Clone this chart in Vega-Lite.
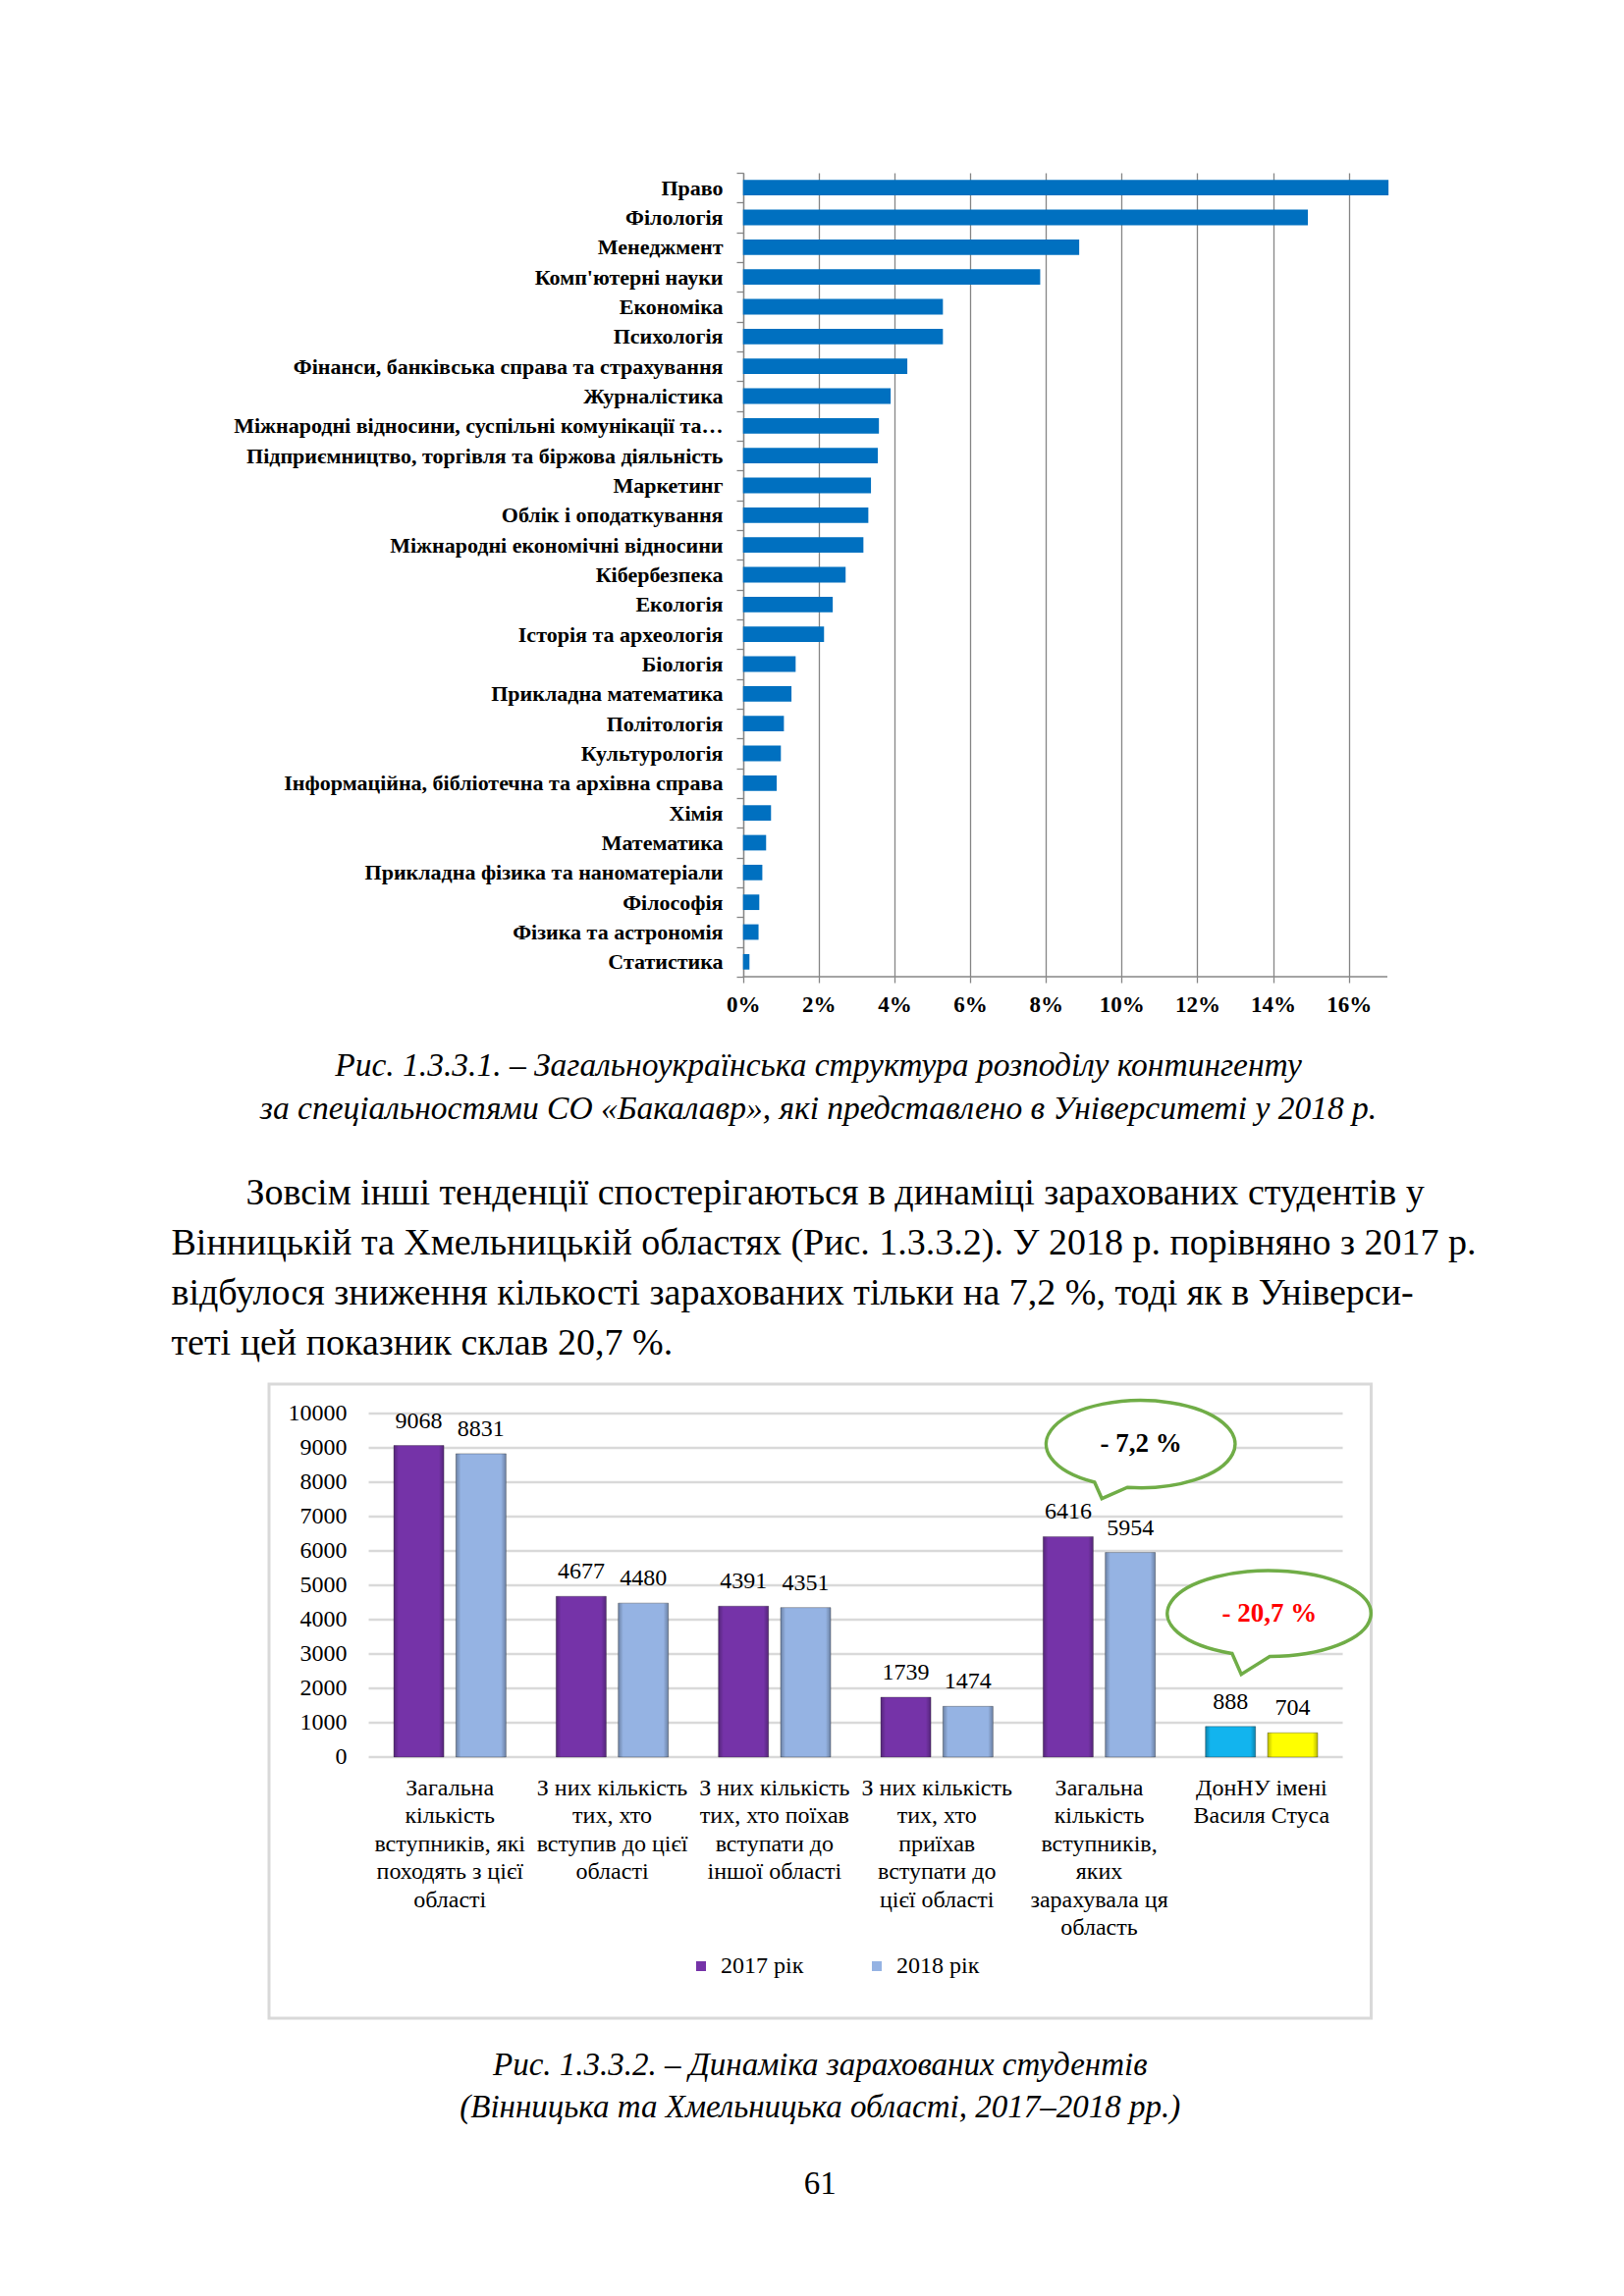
{
  "$schema": "https://vega.github.io/schema/vega-lite/v6.json",
  "background": "white",
  "padding": {"left": 173, "top": 165, "right": 40, "bottom": 40},
  "config": {
    "view": {"stroke": null},
    "font": "Liberation Serif",
    "axis": {"labelFont": "Liberation Serif", "labelColor": "#000000"},
    "legend": {"labelFont": "Liberation Serif", "labelColor": "#000000"},
    "title": {"font": "Liberation Serif", "color": "#000000", "fontWeight": "normal"},
    "text": {"font": "Liberation Serif"}
  },
  "spacing": 48,
  "resolve": {"scale": {"color": "independent"}, "legend": {"color": "independent"}},
  "vconcat": [
    {
      "width": 1139,
      "height": 819,
      "title": {
        "text": ["Рис. 1.3.3.1. – Загальноукраїнська структура розподілу контингенту", "за спеціальностями СО «Бакалавр», які представлено в Університеті у 2018 р."],
        "orient": "bottom", "anchor": "middle", "frame": "group", "dx": -10, "offset": 35,
        "fontSize": 33.5, "fontStyle": "italic", "fontWeight": "normal", "lineHeight": 44
      },
      "data": {"values": [
        {"name": "Право", "share": 0.1705},
        {"name": "Філологія", "share": 0.1492},
        {"name": "Менеджмент", "share": 0.0888},
        {"name": "Комп'ютерні науки", "share": 0.0785},
        {"name": "Економіка", "share": 0.0528},
        {"name": "Психологія", "share": 0.0528},
        {"name": "Фінанси, банківська справа та страхування", "share": 0.0434},
        {"name": "Журналістика", "share": 0.0390},
        {"name": "Міжнародні відносини, суспільні комунікації та…", "share": 0.0359},
        {"name": "Підприємництво, торгівля та біржова діяльність", "share": 0.0356},
        {"name": "Маркетинг", "share": 0.0338},
        {"name": "Облік і оподаткування", "share": 0.0331},
        {"name": "Міжнародні економічні відносини", "share": 0.0318},
        {"name": "Кібербезпека", "share": 0.0271},
        {"name": "Екологія", "share": 0.0237},
        {"name": "Історія та археологія", "share": 0.0214},
        {"name": "Біологія", "share": 0.0139},
        {"name": "Прикладна математика", "share": 0.0128},
        {"name": "Політологія", "share": 0.0108},
        {"name": "Культурологія", "share": 0.0100},
        {"name": "Інформаційна, бібліотечна та архівна справа", "share": 0.0089},
        {"name": "Хімія", "share": 0.0074},
        {"name": "Математика", "share": 0.0061},
        {"name": "Прикладна фізика та наноматеріали", "share": 0.0051},
        {"name": "Філософія", "share": 0.0043},
        {"name": "Фізика та астрономія", "share": 0.0041},
        {"name": "Статистика", "share": 0.0017}
      ]},
      "layer": [
        {
          "mark": {"type": "bar", "color": "#0070C0", "height": {"band": 0.52}},
          "encoding": {
            "y": {
              "field": "name", "type": "nominal", "sort": null,
              "scale": {"paddingInner": 0, "paddingOuter": 0},
              "axis": {
                "title": null, "orient": "left", "offset": -483,
                "labelFontWeight": "bold", "labelFontSize": 22, "labelLimit": 0, "labelPadding": 14,
                "domain": true, "domainColor": "#868686", "domainWidth": 1.3,
                "ticks": true, "tickBand": "extent", "tickSize": 7, "tickColor": "#868686", "tickWidth": 1.3,
                "grid": false, "labelOverlap": false
              }
            },
            "x": {
              "field": "share", "type": "quantitative",
              "scale": {"domain": [-0.1252, 0.1702], "nice": false, "zero": false},
              "axis": {
                "title": null, "values": [0, 0.02, 0.04, 0.06, 0.08, 0.1, 0.12, 0.14, 0.16], "format": ".0%",
                "grid": true, "gridColor": "#868686", "gridWidth": 1.3,
                "domain": false, "ticks": true, "tickSize": 6, "tickColor": "#868686", "tickWidth": 1.3,
                "labelFontWeight": "bold", "labelFontSize": 23, "labelPadding": 11, "labelFlush": false
              }
            }
          }
        },
        {
          "data": {"values": [{}]},
          "mark": {"type": "rule", "color": "#868686", "strokeWidth": 1.3},
          "encoding": {
            "x": {"datum": 0},
            "x2": {"datum": 0.1702},
            "y": {"datum": "Статистика", "bandPosition": 1}
          }
        }
      ]
    },
    {
      "spacing": 30,
      "resolve": {"scale": {"color": "independent"}, "legend": {"color": "independent"}},
      "vconcat": [
        {
          "width": 1122.5,
          "height": 646,
          "view": {"stroke": "#d9d9d9", "strokeWidth": 3},
          "title": {
            "text": [
              "\u200b\u00a0\u00a0\u00a0\u00a0\u00a0\u00a0\u00a0\u00a0Зовсім інші тенденції спостерігаються в динаміці зарахованих студентів у",
              "Вінницькій та Хмельницькій областях (Рис. 1.3.3.2). У 2018 р. порівняно з 2017 р.",
              "відбулося зниження кількості зарахованих тільки на 7,2 %, тоді як в Універси-",
              "теті цей показник склав 20,7 %."
            ],
            "orient": "top", "anchor": "start", "frame": "group", "dx": -99.5, "offset": 22,
            "fontSize": 38, "fontWeight": "normal", "fontStyle": "normal", "lineHeight": 51
          },
          "data": {"values": [
            {"group": "Загальна\nкількість\nвступників, які\nпоходять з цієї\nобласті", "year": "2017 рік", "count": 9068},
            {"group": "Загальна\nкількість\nвступників, які\nпоходять з цієї\nобласті", "year": "2018 рік", "count": 8831},
            {"group": "З них кількість\nтих, хто\nвступив до цієї\nобласті", "year": "2017 рік", "count": 4677},
            {"group": "З них кількість\nтих, хто\nвступив до цієї\nобласті", "year": "2018 рік", "count": 4480},
            {"group": "З них кількість\nтих, хто поїхав\nвступати до\nіншої області", "year": "2017 рік", "count": 4391},
            {"group": "З них кількість\nтих, хто поїхав\nвступати до\nіншої області", "year": "2018 рік", "count": 4351},
            {"group": "З них кількість\nтих, хто\nприїхав\nвступати до\nцієї області", "year": "2017 рік", "count": 1739},
            {"group": "З них кількість\nтих, хто\nприїхав\nвступати до\nцієї області", "year": "2018 рік", "count": 1474},
            {"group": "Загальна\nкількість\nвступників,\nяких\nзарахувала ця\nобласть", "year": "2017 рік", "count": 6416},
            {"group": "Загальна\nкількість\nвступників,\nяких\nзарахувала ця\nобласть", "year": "2018 рік", "count": 5954},
            {"group": "ДонНУ імені\nВасиля Стуса", "year": "2017 рік", "count": 888},
            {"group": "ДонНУ імені\nВасиля Стуса", "year": "2018 рік", "count": 704}
          ]},
          "layer": [
            {
              "data": {"values": [{"v": 0}, {"v": 1000}, {"v": 2000}, {"v": 3000}, {"v": 4000}, {"v": 5000}, {"v": 6000}, {"v": 7000}, {"v": 8000}, {"v": 9000}, {"v": 10000}]},
              "mark": {"type": "rule", "color": "#d9d9d9", "strokeWidth": 2.5},
              "encoding": {
                "y": {"field": "v", "type": "quantitative"},
                "x": {"datum": "Загальна\nкількість\nвступників, які\nпоходять з цієї\nобласті", "bandPosition": 0},
                "x2": {"datum": "ДонНУ імені\nВасиля Стуса", "bandPosition": 1}
              }
            },
            {
              "mark": {"type": "bar", "stroke": "#2b2b2b", "strokeOpacity": 0.35, "strokeWidth": 1},
              "encoding": {
                "x": {
                  "field": "group", "type": "nominal", "sort": null,
                  "scale": {
                    "domain": [
                      "Загальна\nкількість\nвступників, які\nпоходять з цієї\nобласті",
                      "З них кількість\nтих, хто\nвступив до цієї\nобласті",
                      "З них кількість\nтих, хто поїхав\nвступати до\nіншої області",
                      "З них кількість\nтих, хто\nприїхав\nвступати до\nцієї області",
                      "Загальна\nкількість\nвступників,\nяких\nзарахувала ця\nобласть",
                      "ДонНУ імені\nВасиля Стуса"
                    ],
                    "paddingInner": 0, "paddingOuter": 0.3947, "align": 0.778
                  },
                  "axis": {
                    "title": null, "orient": "bottom", "offset": -247,
                    "domain": false, "ticks": false, "grid": false,
                    "labelAngle": 0, "labelAlign": "center", "labelBaseline": "top",
                    "labelExpr": "split(datum.label, '\\n')",
                    "labelLineHeight": 28.5, "labelFontSize": 24, "labelPadding": 0, "labelLimit": 0, "labelOverlap": false
                  }
                },
                "xOffset": {"field": "year", "type": "nominal", "scale": {"paddingInner": 0.194, "paddingOuter": 0.403}},
                "y": {
                  "field": "count", "type": "quantitative",
                  "scale": {"domain": [-7605, 10857], "nice": false, "zero": false},
                  "axis": {
                    "title": null, "values": [0, 1000, 2000, 3000, 4000, 5000, 6000, 7000, 8000, 9000, 10000], "format": "d",
                    "orient": "left", "offset": -79, "domain": false, "ticks": false, "grid": false,
                    "labelPadding": 0, "labelFontSize": 24, "labelFlush": false
                  }
                },
                "color": {
                  "field": "year", "type": "nominal",
                  "scale": {"domain": ["2017 рік", "2018 рік"], "range": ["#7533A8", "#95B3E3"]},
                  "condition": [
                    {"test": "datum.group === 'ДонНУ імені\\nВасиля Стуса' && datum.year === '2017 рік'", "value": "#12B4EE"},
                    {"test": "datum.group === 'ДонНУ імені\\nВасиля Стуса' && datum.year === '2018 рік'", "value": "#FFFF00"}
                  ],
                  "legend": {
                    "title": null, "orient": "none", "legendX": 428, "legendY": 581, "direction": "horizontal",
                    "symbolType": "square", "symbolSize": 100, "symbolStrokeWidth": 0,
                    "labelFont": "Liberation Serif", "labelFontSize": 24, "labelColor": "#000000",
                    "labelOffset": 8, "columnPadding": 62, "padding": 0
                  }
                }
              }
            },
            {
              "mark": {
                "type": "bar",
                "fill": {"gradient": "linear", "x1": 0, "x2": 1, "y1": 0, "y2": 0, "stops": [
                  {"offset": 0, "color": "rgba(0,0,0,0.28)"},
                  {"offset": 0.1, "color": "rgba(0,0,0,0)"},
                  {"offset": 0.9, "color": "rgba(0,0,0,0)"},
                  {"offset": 1, "color": "rgba(0,0,0,0.28)"}
                ]}
              },
              "encoding": {
                "x": {"field": "group", "type": "nominal", "sort": null},
                "xOffset": {"field": "year", "type": "nominal"},
                "y": {"field": "count", "type": "quantitative"}
              }
            },
            {
              "mark": {"type": "text", "baseline": "alphabetic", "dy": -18, "fontSize": 24, "color": "#000000"},
              "encoding": {
                "x": {"field": "group", "type": "nominal", "sort": null},
                "xOffset": {"field": "year", "type": "nominal"},
                "y": {"field": "count", "type": "quantitative"},
                "text": {"field": "count", "type": "quantitative", "format": "d"}
              }
            },
            {
              "data": {"values": [{"t": "- 7,2 %"}]},
              "mark": {"type": "point", "shape": "M-0.138,0.44A0.962,0.445,0,1,0,-0.472,0.388L-0.398,0.555Z", "size": 40000, "filled": true, "fill": "#ffffff", "stroke": "#70AD47", "strokeWidth": 3.5, "opacity": 1},
              "encoding": {
                "x": {"datum": "Загальна\nкількість\nвступників,\nяких\nзарахувала ця\nобласть", "bandPosition": 0.757},
                "y": {"datum": 9108}
              }
            },
            {
              "data": {"values": [{"t": "- 7,2 %"}]},
              "mark": {"type": "text", "fontWeight": "bold", "fontSize": 27, "color": "#000000", "baseline": "middle"},
              "encoding": {
                "x": {"datum": "Загальна\nкількість\nвступників,\nяких\nзарахувала ця\nобласть", "bandPosition": 0.757},
                "y": {"datum": 9108},
                "text": {"field": "t"}
              }
            },
            {
              "data": {"values": [{"t": "- 20,7 %"}]},
              "mark": {"type": "point", "shape": "M0.004,0.437A1.037,0.437,0,1,0,-0.38,0.407L-0.286,0.62Z", "size": 40000, "filled": true, "fill": "#ffffff", "stroke": "#70AD47", "strokeWidth": 3.5, "opacity": 1},
              "encoding": {
                "x": {"datum": "ДонНУ імені\nВасиля Стуса", "bandPosition": 0.548},
                "y": {"datum": 4178}
              }
            },
            {
              "data": {"values": [{"t": "- 20,7 %"}]},
              "mark": {"type": "text", "fontWeight": "bold", "fontSize": 27, "color": "#FF0000", "baseline": "middle"},
              "encoding": {
                "x": {"datum": "ДонНУ імені\nВасиля Стуса", "bandPosition": 0.548},
                "y": {"datum": 4178},
                "text": {"field": "t"}
              }
            }
          ]
        },
        {
          "width": 1122.5,
          "height": 1,
          "data": {"values": []},
          "mark": {"type": "rule"},
          "encoding": {},
          "title": {
            "text": ["Рис. 1.3.3.2. – Динаміка зарахованих студентів", "(Вінницька та Хмельницька області, 2017–2018 рр.)"],
            "subtitle": "61",
            "orient": "top", "anchor": "middle", "frame": "group", "offset": 0,
            "fontSize": 33, "fontStyle": "italic", "fontWeight": "normal", "lineHeight": 43,
            "subtitleFont": "Liberation Serif", "subtitleFontSize": 33, "subtitleFontStyle": "normal", "subtitleColor": "#000000", "subtitlePadding": 45
          }
        }
      ]
    }
  ]
}
